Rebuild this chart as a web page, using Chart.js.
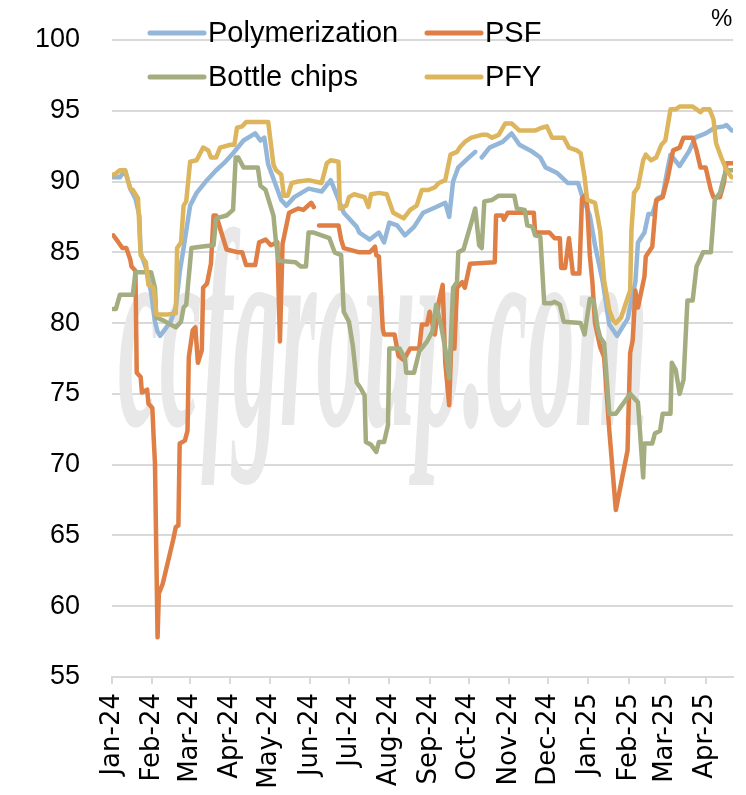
<!DOCTYPE html>
<html>
<head>
<meta charset="utf-8">
<script src="https://cdn.jsdelivr.net/npm/chart.js@4.4.1/dist/chart.umd.min.js"></script>
<style>
  body { margin: 0; background: #fff; }
  #wrap { width: 746px; height: 795px; }
</style>
</head>
<body>
<div id="wrap"><canvas id="chart" width="746" height="795"></canvas></div>
<script>
// x values are days counted from 1 Jan 2024
const monthStarts = [0, 31, 60, 91, 121, 152, 182, 213, 244, 274, 305, 335, 366, 397, 425, 456];
const monthLabels = ['Jan-24', 'Feb-24', 'Mar-24', 'Apr-24', 'May-24', 'Jun-24', 'Jul-24', 'Aug-24',
                     'Sep-24', 'Oct-24', 'Nov-24', 'Dec-24', 'Jan-25', 'Feb-25', 'Mar-25', 'Apr-25'];
const yTicks = [55, 60, 65, 70, 75, 80, 85, 90, 95, 100];

const polyDays = [0, 6, 10, 14, 18, 21, 22, 26, 30, 33, 35, 37, 45, 49, 52, 55, 60, 65, 72, 80, 86, 93,
  101, 110, 114, 117, 120, 124, 130, 134, 140, 151, 161, 168, 178, 188, 190, 198, 205, 209, 213, 219,
  225, 232, 239, 249, 256, 259, 262, 266, 273, 279, 281, 284, 290, 300, 307, 313, 323, 329, 333, 342,
  350, 358, 361, 367, 371, 377, 382, 388, 396, 402, 404, 409, 412, 415, 419, 423, 427, 429, 436, 443,
  448, 456, 463, 470, 472, 476, 477];
const polyValues = [90.3, 90.3, 90.8, 89.5, 88.8, 87.6, 85.0, 83.9, 82.2, 80.1, 79.4, 79.1, 80.1, 81.1, 83.6, 85.3, 88.3, 89.2, 90.0, 90.8, 91.3, 92.0,
  92.9, 93.4, 92.9, 93.1, 91.2, 90.2, 88.7, 88.3, 88.9, 89.5, 89.3, 90.1, 87.8, 86.8, 86.4, 85.9, 86.4, 85.7, 87.1, 86.9,
  86.2, 86.8, 87.8, 88.2, 88.5, 87.5, 90.0, 91.0, 91.6, 92.1, null, 91.7, 92.4, 92.8, 93.4, 92.6, 92.1, 91.7, 91.0, 90.6,
  89.9, 89.9, 89.0, 87.6, 85.5, 82.9, 79.9, 79.1, 80.3, 82.9, 85.7, 86.4, 87.7, 87.7, 88.8, 89.0, 91.0, 91.9, 91.1, 92.1,
  93.1, 93.4, 93.8, 93.9, 94.0, 93.6, 93.6];

const psfDays = [1, 5, 8, 11, 14, 15, 18, 19, 22, 23, 27, 28, 31, 32, 33, 35, 36, 39, 47, 49,
  51, 52, 56, 58, 59, 62, 64, 66, 69, 70, 73, 76, 78, 80, 84, 88, 97, 100, 103, 110,
  113, 118, 122, 127, 129, 131, 136, 143, 147, 153, 155, 157, 159, 174, 176, 178, 190, 198, 202, 203,
  205, 208, 209, 217, 220, 224, 229, 236, 238, 242, 244, 248, 251, 254, 256, 259, 261, 263, 265, 269,
  271, 275, 294, 295, 300, 301, 304, 324, 325, 336, 340, 344, 345, 348, 351, 354, 359, 361, 363, 365,
  367, 369, 371, 375, 378, 382, 387, 396, 398, 400, 402, 404, 409, 410, 415, 418, 423, 427, 431, 436,
  439, 446, 449, 452, 456, 460, 462, 467, 470, 472, 477];
const psfValues = [86.2, 85.7, 85.3, 85.3, 84.5, 84.0, 83.7, 76.5, 76.2, 75.1, 75.3, 74.3, 74.0, 71.9, 70.1, 57.8, 60.9, 61.6, 64.7, 65.6,
  65.7, 71.5, 71.7, 72.4, 77.6, 79.5, 79.7, 77.2, 78.1, 82.5, 82.8, 84.2, 87.6, 87.6, 86.4, 85.2, 85.0, 85.0, 84.1, 84.1,
  85.7, 85.9, 85.5, 85.7, 78.7, 85.6, 87.8, 88.1, 88.0, 88.5, 88.2, null, 86.9, 86.9, 85.9, 85.3, 85.0, 85.0, 85.4, 84.8,
  84.7, 79.6, 79.2, 79.2, 77.7, 77.4, 78.2, 78.2, 79.9, 79.9, 80.8, 79.2, 81.5, 82.7, 77.2, 74.2, 79.6, 78.2, 82.5, 82.9,
  82.5, 84.2, 84.3, 87.6, 87.6, 87.3, 87.8, 87.8, 86.4, 86.4, 86.0, 86.0, 83.9, 83.9, 86.0, 83.5, 83.5, 88.8, 89.0, 88.3,
  84.8, 82.9, 80.0, 78.3, 77.6, 72.4, 66.8, 71.0, 77.9, 78.8, 82.3, 81.1, 83.3, 84.7, 85.4, 88.7, 88.9, 90.3, 92.2, 92.4,
  93.1, 93.1, 92.2, 91.0, 91.0, 89.4, 88.9, 88.9, 89.9, 91.3, 91.3];

const bottleDays = [1, 3, 6, 16, 18, 30, 33, 34, 39, 49, 53, 55, 57, 61, 68, 78, 80, 88, 93, 95,
  97, 101, 112, 114, 118, 124, 126, 128, 141, 145, 149, 151, 155, 161, 167, 171, 176, 178, 182, 185,
  188, 191, 194, 195, 199, 203, 205, 209, 212, 213, 221, 225, 226, 232, 236, 242, 246, 249, 253, 256,
  259, 262, 265, 266, 270, 276, 279, 282, 284, 286, 292, 297, 309, 311, 317, 319, 323, 325, 329, 332,
  337, 340, 344, 347, 360, 363, 367, 370, 373, 375, 378, 382, 387, 398, 404, 408, 409, 415, 417, 421,
  423, 429, 430, 433, 436, 439, 442, 446, 449, 454, 460, 463, 467, 470, 472, 477];
const bottleValues = [81.0, 81.0, 82.0, 82.0, 83.6, 83.6, 82.5, 80.4, 80.2, 79.7, 80.1, 81.1, 81.3, 85.3, 85.4, 85.5, 87.4, 87.6, 88.0, 91.7,
  91.7, 91.0, 91.0, 89.7, 89.4, 87.6, 85.7, 84.4, 84.3, 84.0, 84.0, 86.4, 86.4, 86.2, 86.0, 85.0, 84.8, 80.8, 80.1, 78.4,
  75.8, 75.4, 74.9, 71.6, 71.4, 70.9, 71.6, 71.6, 72.8, 78.2, 78.2, 77.5, 76.5, 76.5, 78.0, 78.7, 79.4, 81.3, 79.7, 78.2,
  76.1, 82.5, 82.9, 85.0, 85.2, 87.1, 88.1, 85.5, 85.3, 88.6, 88.7, 89.0, 89.0, 88.1, 88.0, 86.9, 86.8, 86.2, 86.1, 81.4,
  81.4, 81.5, 81.3, 80.1, 80.0, 79.2, 81.7, 81.6, 79.7, 79.0, 78.6, 73.6, 73.6, 75.0, 74.4, 69.1, 71.5, 71.5, 72.2, 72.4,
  73.6, 73.6, 77.2, 76.7, 75.0, 76.0, 81.6, 81.6, 84.0, 85.0, 85.0, 88.7, 89.2, 90.3, 90.8, 90.8];

const pfyDays = [1, 2, 6, 10, 14, 16, 20, 22, 26, 28, 32, 34, 42, 49, 50, 53, 55, 57, 60, 65,
  70, 74, 76, 80, 83, 91, 94, 96, 100, 103, 120, 124, 126, 130, 132, 135, 138, 143, 151, 161,
  165, 168, 174, 175, 180, 182, 186, 190, 194, 197, 199, 205, 211, 216, 220, 224, 229, 234, 238, 243,
  248, 251, 256, 260, 265, 267, 271, 276, 284, 288, 292, 297, 302, 307, 313, 325, 330, 334, 338, 347,
  351, 357, 360, 363, 365, 371, 375, 378, 382, 385, 387, 391, 398, 399, 401, 404, 408, 410, 414, 418,
  422, 425, 429, 433, 436, 446, 452, 454, 459, 462, 464, 468, 472, 476, 477];
const pfyValues = [90.5, 90.5, 90.8, 90.8, 89.5, 89.4, 88.8, 84.8, 84.3, 82.7, 82.5, 80.6, 80.6, 80.7, 85.3, 85.7, 88.3, 88.6, 91.4, 91.5,
  92.4, 92.2, 91.7, 91.7, 92.4, 92.6, 92.6, 93.8, 93.9, 94.2, 94.2, 91.2, 90.8, 90.5, 89.0, 89.0, 89.9, 90.0, 90.1, 89.9,
  91.3, 91.5, 91.4, 88.1, 88.3, 88.9, 89.1, 89.0, 88.9, 88.2, 89.1, 89.2, 89.1, 87.8, 87.6, 87.4, 88.0, 88.3, 89.4, 89.4,
  89.6, 89.9, 90.1, 91.9, 92.1, 92.4, 92.8, 93.1, 93.3, 93.3, 93.1, 93.3, 94.1, 94.1, 93.6, 93.6, 93.8, 93.9, 93.1, 93.1,
  92.4, 92.2, 92.0, 90.3, 88.7, 88.5, 86.5, 83.0, 80.9, 80.2, 80.0, 80.4, 82.3, 86.6, 89.2, 89.6, 91.5, 91.9, 91.5, 91.7,
  92.6, 92.9, 95.1, 95.1, 95.3, 95.3, 94.9, 95.1, 95.1, 94.4, 92.7, 91.7, 90.8, 90.3, 90.3];

const lastDay = 477;

function toPoints(days, values) {
    return days.map((d, i) => ({ x: d, y: values[i] }));
}

function lineSet(label, days, values, color, order) {
    return {
        label: label,
        data: toPoints(days, values),
        borderColor: color,
        backgroundColor: color,
        borderWidth: 4.5,
        pointRadius: 0,
        tension: 0,
        borderJoinStyle: 'round',
        borderCapStyle: 'round',
        order: order
    };
}

const colors = {
    poly: '#93b6d9',
    psf: '#df7f45',
    bottle: '#a3ad80',
    pfy: '#dcb55c'
};

// faint site watermark behind the lines
const watermark = {
    id: 'watermark',
    beforeDatasetsDraw(chart) {
        const ctx = chart.ctx;
        ctx.save();
        ctx.translate(118, 425);
        ctx.scale(1, 3.0);
        ctx.font = 'italic bold 94px "Liberation Serif"';
        ctx.fillStyle = '#e8e8e8';
        ctx.fillText('ccfgroup.com', 0, 0);
        ctx.restore();
    }
};

// two-column legend and the unit label
const legendItems = [
    { text: 'Polymerization', color: colors.poly, x: 148, y: 33 },
    { text: 'PSF', color: colors.psf, x: 425, y: 33 },
    { text: 'Bottle chips', color: colors.bottle, x: 148, y: 77 },
    { text: 'PFY', color: colors.pfy, x: 425, y: 77 }
];

const legendPlugin = {
    id: 'legendBlock',
    afterDraw(chart) {
        const ctx = chart.ctx;
        ctx.save();
        ctx.lineWidth = 5;
        ctx.lineCap = 'round';
        ctx.font = '29px "Liberation Sans"';
        ctx.fillStyle = '#000';
        ctx.textBaseline = 'middle';
        legendItems.forEach(item => {
            ctx.strokeStyle = item.color;
            ctx.beginPath();
            ctx.moveTo(item.x + 2, item.y);
            ctx.lineTo(item.x + 56, item.y);
            ctx.stroke();
            ctx.fillText(item.text, item.x + 60, item.y + 1);
        });
        ctx.font = '24px "Liberation Sans"';
        ctx.fillText('%', 711, 19);
        ctx.restore();
    }
};

const ctx = document.getElementById('chart').getContext('2d');
new Chart(ctx, {
    type: 'line',
    data: {
        datasets: [
            lineSet('Polymerization', polyDays, polyValues, colors.poly, 4),
            lineSet('PSF', psfDays, psfValues, colors.psf, 3),
            lineSet('Bottle chips', bottleDays, bottleValues, colors.bottle, 2),
            lineSet('PFY', pfyDays, pfyValues, colors.pfy, 1)
        ]
    },
    options: {
        responsive: false,
        animation: false,
        spanGaps: false,
        layout: { padding: { top: 40, right: 13, left: 0, bottom: 0 } },
        plugins: {
            legend: { display: false },
            tooltip: { enabled: false }
        },
        scales: {
            x: {
                type: 'linear',
                min: 0,
                max: lastDay,
                afterBuildTicks: scale => {
                    scale.ticks = monthStarts.map(v => ({ value: v }));
                },
                afterFit: scale => {
                    scale.height = 118;
                    scale.paddingLeft = 0;
                    scale.paddingRight = 0;
                },
                ticks: {
                    autoSkip: false,
                    minRotation: 90,
                    maxRotation: 90,
                    padding: 9,
                    color: '#000',
                    font: { family: '"DejaVu Sans"', size: 26 },
                    callback: (value, index) => monthLabels[index]
                },
                grid: {
                    drawOnChartArea: false,
                    drawTicks: true,
                    tickLength: 7,
                    color: '#d9d9d9',
                    lineWidth: 2
                },
                border: { display: true, color: '#d9d9d9', width: 2 }
            },
            y: {
                min: 55,
                max: 100,
                afterBuildTicks: scale => {
                    scale.ticks = yTicks.map(v => ({ value: v }));
                },
                afterFit: scale => {
                    scale.width = 112;
                    scale.paddingTop = 0;
                    scale.paddingBottom = 0;
                },
                ticks: {
                    padding: 32,
                    color: '#000',
                    font: { family: '"Liberation Sans"', size: 27 }
                },
                grid: {
                    color: '#d9d9d9',
                    lineWidth: 2,
                    drawTicks: false
                },
                border: { display: false }
            }
        }
    },
    plugins: [watermark, legendPlugin]
});
</script>
</body>
</html>
